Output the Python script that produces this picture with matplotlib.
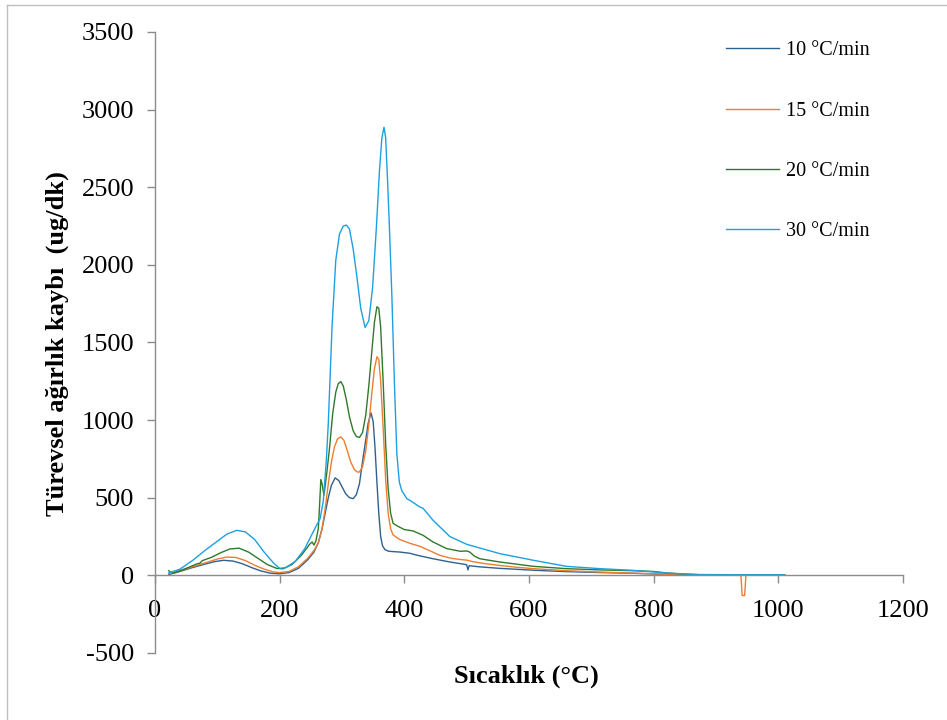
import matplotlib.pyplot as plt
from matplotlib.lines import Line2D

plt.rcParams['font.family'] = ['Liberation Serif', 'DejaVu Serif']
plt.rcParams['axes.unicode_minus'] = False

# 10 °C/min
t10 = [22, 40, 60, 80, 95, 110, 125, 140, 155, 170, 185, 200, 215, 230, 245, 255,
       262, 268, 273, 278, 283, 289, 295, 300, 306, 312, 318, 323, 328, 334, 338,
       342, 346.5, 350, 353, 356, 359, 362, 365, 369, 375, 385, 393, 409, 420, 446,
       473, 495, 500, 502, 504, 520, 553, 607, 660, 714, 760, 800, 821, 850, 900, 1010]
v10 = [5, 25, 50, 72, 88, 97, 92, 75, 50, 28, 14, 10, 18, 45, 100, 150,
       210, 300, 400, 500, 580, 628, 610, 570, 525, 500, 494, 520, 590, 763, 870,
       980, 1047, 990, 820, 600, 400, 250, 190, 165, 155, 152, 150, 142, 130, 107,
       86, 72, 68, 35, 62, 55, 45, 33, 24, 18, 14, 9, 6, 3, 2, 2]

# 15 °C/min
t15 = [22, 40, 60, 80, 100, 115, 130, 145, 160, 175, 190, 200, 215, 230, 245, 255,
       262, 268, 273, 278, 283, 288, 293, 298, 303, 308, 314, 320, 325, 328, 333,
       338, 343, 348, 352, 356, 359, 362, 366, 370, 374, 378, 382, 393, 410, 425,
       440, 457, 475, 490, 500, 510, 530, 553, 580, 607, 660, 714, 760, 800, 821,
       850, 900, 940, 942, 946, 948, 980, 1010]
v15 = [10, 30, 55, 80, 105, 118, 115, 95, 65, 40, 22, 18, 25, 55, 110, 160,
       210, 300, 430, 590, 730, 830, 880, 892, 870, 810, 730, 680, 665, 666, 700,
       800, 970, 1180, 1330, 1408, 1390, 1250, 950, 620, 400, 300, 260, 230, 205, 187,
       160, 129, 110, 102, 98, 88, 75, 64, 52, 43, 30, 21, 15, 10, 6,
       3, 1, 0, -130, -130, 0, 2, 2]

# 20 °C/min
t20 = [22, 25, 30, 50, 68, 72, 76, 90, 105, 120, 135, 150, 165, 180, 195, 205,
       220, 235, 248, 252, 255, 258, 262, 264, 266, 268, 271, 275, 280, 285, 290,
       294, 298, 302, 307, 312, 318, 323, 328, 333, 338, 343, 348, 352, 356, 359,
       362, 366, 370, 374, 378, 382, 390, 400, 414, 430, 446, 468, 490, 500, 505,
       512, 521, 553, 607, 660, 714, 767, 800, 821, 850, 874, 950, 1010]
v20 = [30, 20, 15, 45, 75, 78, 95, 115, 145, 170, 175, 150, 110, 70, 45, 42,
       70, 130, 200, 215, 195, 220, 300, 450, 617, 590, 516, 640, 820, 1040, 1180,
       1235, 1248, 1220, 1130, 1020, 930, 895, 888, 920, 1030, 1220, 1450, 1630, 1730, 1720,
       1600, 1250, 850, 560, 400, 335, 315, 295, 286, 258, 215, 172, 155, 157, 150,
       125, 107, 86, 58, 43, 35, 30, 25, 15, 8, 5, 4, 4]

# 30 °C/min
t30 = [22, 40, 60, 80, 100, 115, 131, 145, 160, 175, 190, 200, 210, 225, 240, 255,
       265, 270, 275, 278, 284, 290, 296, 302, 307, 312, 318, 324, 330, 337, 343,
       349, 355, 360, 364, 367.4, 370, 373, 376, 380, 384, 388, 392, 396, 404, 409,
       425, 430, 446, 473, 500, 553, 607, 660, 714, 767, 821, 874, 920, 960, 1010]
v30 = [15, 40, 95, 160, 220, 265, 290, 280, 230, 150, 80, 45, 50, 90, 170, 290,
       367, 480, 750, 980, 1600, 2030, 2200, 2250, 2256, 2230, 2100, 1920, 1720, 1597, 1640,
       1850, 2230, 2600, 2820, 2886, 2820, 2550, 2250, 1800, 1250, 780, 600, 545, 494, 483,
       440, 432, 355, 250, 200, 140, 97, 58, 43, 32, 15, 4, 4, 4, 4]

labels = ['10 °C/min', '15 °C/min', '20 °C/min', '30 °C/min']
colors = ['#2E6190', '#ED7D31', '#2F7A2A', '#1BA1E2']

fig = plt.figure(figsize=(9.47, 7.2), dpi=100)
ax = fig.add_axes([0.1637, 0.0931, 0.7898, 0.8625])

for t, v, lab, c in zip([t10, t15, t20, t30], [v10, v15, v20, v30], labels, colors):
    ax.plot(t, v, color=c, lw=1.0, label=lab)

ax.set_xlim(0, 1200)
ax.set_ylim(-500, 3500)
ax.set_xticks(range(0, 1201, 200))
ax.set_yticks(range(-500, 3501, 500))

ax.spines['top'].set_visible(False)
ax.spines['right'].set_visible(False)
ax.spines['bottom'].set_position(('data', 0))
for s in ['left', 'bottom']:
    ax.spines[s].set_color('#8C8C8C')
    ax.spines[s].set_linewidth(1.0)
ax.tick_params(axis='both', colors='#8C8C8C', labelcolor='black', labelsize=19,
               length=6, width=1.0, direction='out')
ax.tick_params(axis='y', pad=9)
ax.tick_params(axis='x', pad=12)

fig.text(0.060, 0.523, 'Türevsel ağırlık kaybı  (ug/dk)', rotation=90,
         ha='center', va='center', fontsize=19, fontweight='bold')
fig.text(0.556, 0.061, 'Sıcaklık (°C)', ha='center', va='center',
         fontsize=19, fontweight='bold')

ax.legend(loc='upper left', bbox_to_anchor=(0.748, 0.968), bbox_transform=fig.transFigure,
          frameon=False, fontsize=14.5, handlelength=2.6, handletextpad=0.35,
          labelspacing=2.05)

# outer frame
fig.add_artist(Line2D([0.0075, 0.0075], [0, 0.993], color='#BFBFBF', lw=1.0,
                      transform=fig.transFigure))
fig.add_artist(Line2D([0.0075, 1.0], [0.993, 0.993], color='#BFBFBF', lw=1.0,
                      transform=fig.transFigure))

fig.savefig('out.png', dpi=100)
